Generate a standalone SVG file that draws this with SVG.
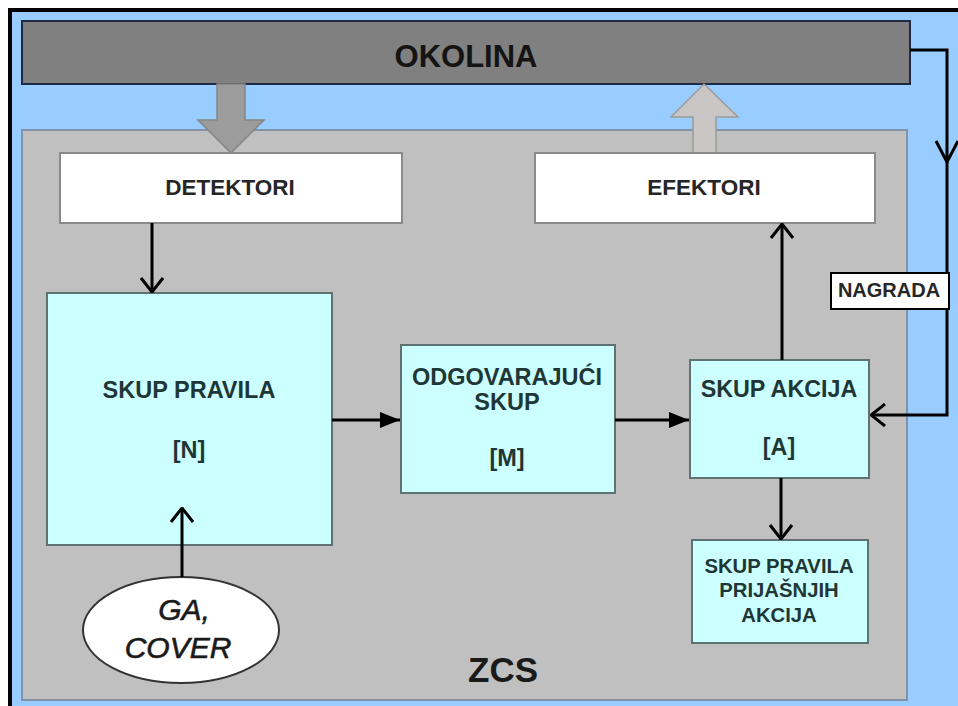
<svg xmlns="http://www.w3.org/2000/svg" width="958" height="706" viewBox="0 0 958 706">
  <style>
    .lbl { font-family: "Liberation Sans", Arial, sans-serif; font-weight: bold; text-anchor: middle; }
    .cyan { fill: #ccffff; stroke: #5e7272; stroke-width: 2; }
    .cyan-t { fill: #1f3636; }
    .white { fill: #ffffff; stroke: #8a8a8a; stroke-width: 2; }
    .dark-t { fill: #262626; }
    .wire { fill: none; stroke: #000; stroke-width: 3; }
  </style>
  <defs>
    <marker id="open" viewBox="0 0 16 24" refX="15" refY="12" markerWidth="16" markerHeight="24" orient="auto" markerUnits="userSpaceOnUse">
      <path d="M1,1 L15,12 L1,23" fill="none" stroke="#000" stroke-width="3"/>
    </marker>
    <marker id="solid" viewBox="0 0 20 16" refX="20" refY="8" markerWidth="20" markerHeight="16" orient="auto" markerUnits="userSpaceOnUse">
      <path d="M0,0 L20,8 L0,16 Z" fill="#000"/>
    </marker>
  </defs>

  <!-- page background and frame -->
  <rect x="0" y="0" width="958" height="706" fill="#ffffff"/>
  <rect x="10" y="10" width="948" height="696" fill="#99ccff"/>
  <line x1="8" y1="10" x2="958" y2="10" stroke="#000" stroke-width="4"/>
  <line x1="10" y1="8" x2="10" y2="706" stroke="#000" stroke-width="4"/>

  <!-- ZCS system area -->
  <g id="zcs">
    <rect x="22" y="130" width="885" height="570" fill="#c0c0c0" stroke="#8193a8" stroke-width="2"/>
    <text class="lbl" x="503" y="682" font-size="35" fill="#1a1a1a">ZCS</text>
  </g>

  <!-- environment -->
  <g id="okolina">
    <rect x="22" y="21" width="888" height="63" fill="#808080" stroke="#1f2a44" stroke-width="2"/>
    <text class="lbl" x="466" y="67" font-size="31" fill="#141414">OKOLINA</text>
  </g>

  <!-- block arrows between environment and ZCS -->
  <g id="input-flow">
    <polygon points="217,84 245,84 245,120 264,120 231,153 198,120 217,120" fill="#9c9c9c" stroke="#858585" stroke-width="1.5"/>
  </g>
  <g id="output-flow">
    <polygon points="693,153 716,153 716,117 738,117 704,84 671,117 693,117" fill="#cac6c6" stroke="#9a9a9a" stroke-width="1.5"/>
  </g>

  <g id="detektori">
    <rect class="white" x="60" y="153" width="342" height="70"/>
    <text class="lbl dark-t" x="230" y="195" font-size="22.5">DETEKTORI</text>
  </g>

  <g id="efektori">
    <rect class="white" x="535" y="153" width="340" height="70"/>
    <text class="lbl dark-t" x="704" y="195" font-size="22.5">EFEKTORI</text>
  </g>

  <g id="skup-pravila">
    <rect class="cyan" x="47" y="293" width="285" height="252"/>
    <text class="lbl cyan-t" x="189" y="398" font-size="23.5">SKUP PRAVILA</text>
    <text class="lbl cyan-t" x="189" y="458" font-size="23.5">[N]</text>
  </g>

  <g id="odgovarajuci-skup">
    <rect class="cyan" x="401" y="345" width="214" height="148"/>
    <text class="lbl cyan-t" x="507" y="385" font-size="23.5">ODGOVARAJUĆI</text>
    <text class="lbl cyan-t" x="507" y="410" font-size="23.5">SKUP</text>
    <text class="lbl cyan-t" x="507" y="466" font-size="23.5">[M]</text>
  </g>

  <g id="skup-akcija">
    <rect class="cyan" x="690" y="360" width="179" height="118"/>
    <text class="lbl cyan-t" x="779" y="397" font-size="23.3">SKUP AKCIJA</text>
    <text class="lbl cyan-t" x="779" y="455" font-size="23.3">[A]</text>
  </g>

  <g id="prijasnje-akcije">
    <rect class="cyan" x="692" y="540" width="176" height="103"/>
    <text class="lbl cyan-t" x="779" y="573" font-size="20.3">SKUP PRAVILA</text>
    <text class="lbl cyan-t" x="779" y="597" font-size="20.3">PRIJAŠNJIH</text>
    <text class="lbl cyan-t" x="779" y="622" font-size="20.3">AKCIJA</text>
  </g>

  <g id="ga-cover">
    <ellipse cx="181" cy="630" rx="98" ry="53" fill="#ffffff" stroke="#333" stroke-width="2"/>
    <text x="184" y="620" font-family="Liberation Sans, Arial, sans-serif" font-style="italic" font-size="30" text-anchor="middle" fill="#1a1a1a" stroke="#1a1a1a" stroke-width="0.6">GA,</text>
    <text x="178" y="658" font-family="Liberation Sans, Arial, sans-serif" font-style="italic" font-size="30" text-anchor="middle" fill="#1a1a1a" stroke="#1a1a1a" stroke-width="0.6">COVER</text>
  </g>

  <!-- connectors -->
  <g id="connectors">
    <line class="wire" x1="152" y1="223" x2="152" y2="292" marker-end="url(#open)"/>
    <line class="wire" x1="182" y1="577" x2="182" y2="508" marker-end="url(#open)"/>
    <line class="wire" x1="332" y1="420" x2="400" y2="420" marker-end="url(#solid)"/>
    <line class="wire" x1="615" y1="420" x2="689" y2="420" marker-end="url(#solid)"/>
    <line class="wire" x1="782" y1="360" x2="782" y2="224" marker-end="url(#open)"/>
    <line class="wire" x1="781" y1="478" x2="781" y2="539" marker-end="url(#open)"/>
    <path class="wire" d="M910,50 H947 V415 H871" marker-end="url(#open)"/>
    <path class="wire" d="M936,141 L947,162 L958,141"/>
  </g>

  <g id="nagrada">
    <rect x="831" y="273" width="118" height="36" fill="#ffffff" stroke="#000" stroke-width="2"/>
    <text class="lbl" x="889" y="297" font-size="20" fill="#262626">NAGRADA</text>
  </g>
</svg>
